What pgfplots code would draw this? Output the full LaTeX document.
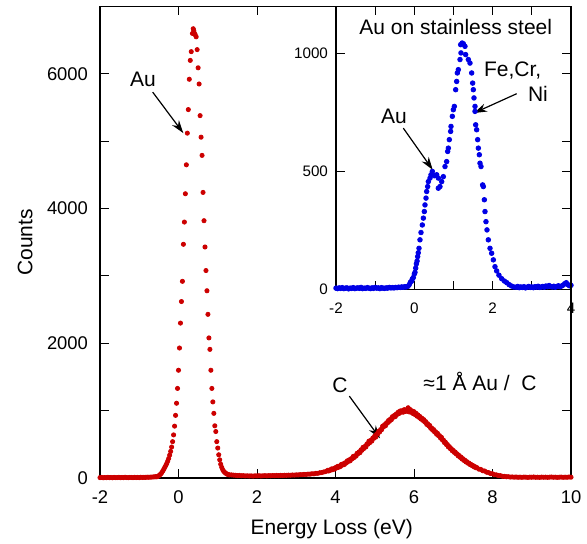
\documentclass[border=0pt]{standalone}
\usepackage{fontspec}
\setmainfont{Liberation Sans}
\usepackage{pgfplots}
\pgfplotsset{compat=1.18}
\usetikzlibrary{arrows.meta}
\definecolor{dotred}{HTML}{CC0000}
\definecolor{dotblue}{HTML}{0000E6}

\pgfplotsset{
  eelsframe/.style={
    scale only axis,
    axis line style={black, line width=0.6pt},
    tick align=inside,
    tick style={black, line width=0.5pt},
    major tick length=4.3pt,
    minor tick length=4.3pt,
  },
}
\tikzset{lbl/.style={font=\fontsize{10.5}{12}\selectfont, inner sep=0pt},
  pointer/.style={-{Stealth[length=6.5pt,width=4.2pt]}, line width=0.6pt}}

\begin{document}
\begin{tikzpicture}
\useasboundingbox (-50pt,-32.5pt) rectangle (243.5pt,239pt);

% inset: Au on stainless steel (drawn first, main frame goes on top)
\begin{axis}[eelsframe,
  at={(118pt,94.35pt)}, anchor=south west,
  width=117.5pt, height=141.4pt,
  xmin=-2, xmax=4, ymin=0, ymax=1200,
  axis background/.style={fill=white},
  xtick={-2,0,2,4}, xticklabels={-2,0,2,4},
  minor xtick={-1,1,3},
  ytick={0,500,1000}, yticklabels={0,500,1000},
  ticklabel style={font=\fontsize{7.6}{9}\selectfont},
  xticklabel style={yshift=-3.5pt},
  yticklabel style={xshift=-0.5pt},
  clip=false,
]
\addplot[only marks, mark=*, mark size=1.15pt, dotblue, mark options={draw=none, fill=dotblue}] table {
x y
-2.00 5
-1.96 3
-1.92 6
-1.88 4
-1.84 7
-1.80 3
-1.76 5
-1.72 6
-1.68 2
-1.64 5
-1.60 4
-1.56 7
-1.52 3
-1.48 5
-1.44 6
-1.40 4
-1.36 8
-1.32 3
-1.28 5
-1.24 4
-1.20 7
-1.16 5
-1.12 3
-1.08 6
-1.04 4
-1.00 8
-0.96 5
-0.92 6
-0.88 3
-0.84 7
-0.80 5
-0.76 4
-0.72 6
-0.68 5
-0.64 8
-0.60 6
-0.56 7
-0.52 6
-0.48 8
-0.44 7
-0.40 9
-0.36 8
-0.32 10
-0.28 9
-0.24 11
-0.21 10
-0.16 13
-0.13 20
-0.10 30
-0.07 35
-0.05 44
-0.026 50
0.000 65
0.017 72
0.035 90
0.052 108
0.070 120
0.085 139
0.100 155
0.119 174
0.144 210
0.170 241
0.204 273
0.230 302
0.255 330
0.272 358
0.298 387
0.315 415
0.340 436
0.357 457
0.400 472
0.425 486
0.459 500
0.510 482
0.570 486
0.612 472
0.612 429
0.655 436
0.698 457
0.740 478
0.783 521
0.825 542
0.851 585
0.868 599
0.893 635
0.927 670
0.936 691
0.970 734
0.995 762
1.021 776
1.055 847
1.081 882
1.098 918
1.123 932
1.166 975
1.191 1003
1.183 1038
1.220 1045
1.251 1042
1.293 1031
1.310 996
1.378 975
1.421 960
1.464 918
1.489 875
1.506 847
1.523 812
1.549 776
1.549 755
1.566 698
1.591 677
1.617 635
1.634 599
1.659 571
1.676 535
1.702 521
1.744 443
1.761 436
1.787 380
1.804 330
1.829 287
1.855 252
1.889 210
1.932 174
1.974 153
2.017 125
2.059 96
2.102 78
2.160 60
2.230 45
2.300 35
2.360 28
2.420 20
2.480 14
2.540 10
2.60 9
2.64 12
2.68 7
2.72 10
2.76 8
2.80 11
2.84 6
2.88 9
2.92 12
2.96 8
3.00 10
3.04 7
3.08 11
3.12 9
3.16 13
3.20 8
3.24 10
3.28 12
3.32 9
3.36 14
3.40 11
3.44 16
3.48 12
3.52 10
3.56 13
3.60 9
3.64 12
3.68 15
3.72 11
3.76 14
3.80 18
3.84 24
3.88 28
3.92 20
3.96 15
4.00 17
};
\node[lbl, anchor=base] at (axis cs:1.058,1081) {Au on stainless steel};
\node[lbl, anchor=base] at (axis cs:-0.519,702) {Au};
\draw[pointer] (axis cs:-0.282,684) -- (axis cs:0.469,507);
\node[lbl, anchor=base east] at (axis cs:3.251,901) {Fe,Cr,};
\node[lbl, anchor=base east] at (axis cs:3.42,797) {Ni};
\draw[pointer] (axis cs:2.613,830) -- (axis cs:1.523,748);
\end{axis}

% main spectrum: about 1 A Au on C
\begin{axis}[eelsframe,
  at={(0pt,0pt)}, anchor=south west,
  width=235.5pt, height=235.75pt,
  xmin=-2, xmax=10, ymin=0, ymax=7000,
  xtick={-2,0,2,4,6,8,10}, xticklabels={-2,0,2,4,6,8,10},
  ytick={0,2000,4000,6000}, yticklabels={0,2000,4000,6000},
  minor ytick={1000,3000,5000},
  ticklabel style={font=\fontsize{9.2}{11}\selectfont},
  xticklabel style={yshift=-3pt},
  yticklabel style={xshift=-2.5pt},
  xlabel={Energy Loss (eV)},
  ylabel={Counts},
  label style={font=\fontsize{10.5}{12}\selectfont},
  xlabel style={at={(axis description cs:0.492,-0.119)}, anchor=base},
  ylabel style={at={(axis description cs:-0.159,0.5)}, anchor=center},
  clip=false,
]
\addplot[only marks, mark=*, mark size=1.05pt, dotred, mark options={draw=none, fill=dotred}] table {
x y
-2.00 6
-1.96 9
-1.92 4
-1.88 7
-1.84 5
-1.80 10
-1.76 6
-1.72 8
-1.68 4
-1.64 9
-1.60 6
-1.56 7
-1.52 10
-1.48 5
-1.44 8
-1.40 6
-1.36 11
-1.32 7
-1.28 5
-1.24 9
-1.20 8
-1.16 6
-1.12 10
-1.08 7
-1.04 9
-1.00 6
-0.96 11
-0.92 8
-0.88 10
-0.84 9
-0.80 12
-0.76 11
-0.72 13
-0.68 14
-0.64 16
-0.60 18
-0.575 20
-0.550 18
-0.525 25
-0.500 35
-0.475 48
-0.450 62
-0.425 80
-0.400 105
-0.375 130
-0.350 158
-0.325 185
-0.300 215
-0.275 250
-0.250 290
-0.225 340
-0.200 395
-0.175 460
-0.150 540
-0.125 640
-0.100 770
-0.075 930
-0.050 1110
-0.025 1330
0.000 1600
0.025 1930
0.050 2300
0.075 2620
0.100 2920
0.125 3470
0.150 3800
0.175 4220
0.200 4650
0.225 5120
0.250 5470
0.275 5920
0.300 6200
0.325 6330
0.355 6600
0.375 6670
0.390 6640
0.410 6600
0.425 6580
0.450 6550
0.475 6360
0.500 6090
0.525 5850
0.550 5380
0.575 5060
0.600 4790
0.625 4240
0.650 3820
0.675 3430
0.700 3080
0.725 2780
0.750 2430
0.775 2080
0.800 1910
0.825 1600
0.850 1330
0.875 1130
0.900 960
0.925 775
0.950 690
0.975 540
1.000 445
1.025 345
1.050 270
1.075 205
1.100 160
1.125 125
1.150 100
1.175 85
1.200 72
1.225 62
1.250 55
1.275 50
1.300 47
1.35 46
1.40 43
1.45 41
1.50 37
1.55 38
1.60 34
1.65 35
1.70 31
1.75 33
1.80 30
1.85 32
1.90 29
1.95 33
2.00 31
2.05 34
2.10 30
2.15 33
2.20 35
2.25 32
2.30 36
2.35 34
2.40 37
2.45 35
2.50 38
2.55 36
2.60 39
2.65 37
2.70 41
2.75 39
2.80 43
2.85 41
2.90 45
2.95 43
3.00 47
3.05 46
3.10 50
3.15 49
3.20 54
3.25 53
3.30 58
3.35 57
3.40 63
3.45 62
3.50 69
3.55 70
3.60 78
3.65 81
3.70 90
3.75 96
3.800 114
3.825 104
3.850 119
3.875 116
3.900 135
3.925 124
3.950 140
3.975 132
4.000 155
4.025 149
4.050 172
4.075 159
4.100 178
4.125 170
4.150 202
4.175 192
4.200 212
4.225 200
4.250 227
4.275 223
4.300 255
4.325 245
4.350 270
4.375 256
4.400 287
4.425 285
4.450 320
4.475 304
4.500 330
4.525 326
4.550 367
4.575 361
4.600 387
4.625 377
4.650 418
4.675 413
4.700 455
4.725 439
4.750 469
4.775 462
4.800 506
4.825 502
4.850 547
4.875 525
4.900 560
4.925 548
4.950 593
4.975 589
5.000 625
5.025 607
5.050 654
5.075 653
5.100 694
5.125 684
5.150 720
5.175 717
5.200 770
5.225 759
5.250 792
5.275 777
5.300 820
5.325 817
5.350 854
5.375 842
5.400 876
5.425 866
5.450 911
5.475 901
5.500 930
5.525 912
5.550 952
5.575 945
5.600 979
5.625 959
5.650 996
5.675 978
5.700 1000
5.725 977
5.750 1015
5.775 988
5.800 1012
5.825 991
5.850 1043
5.875 982
5.900 1017
5.925 976
5.950 996
5.975 957
6.000 985
6.025 942
6.050 961
6.075 919
6.100 937
6.125 901
6.150 913
6.175 876
6.200 888
6.225 856
6.250 867
6.275 831
6.300 837
6.325 795
6.350 805
6.375 774
6.400 780
6.425 738
6.450 743
6.475 710
6.500 719
6.525 683
6.550 687
6.575 650
6.600 663
6.625 628
6.650 629
6.675 593
6.700 604
6.725 563
6.750 563
6.775 526
6.800 532
6.825 496
6.850 498
6.875 461
6.900 467
6.925 435
6.950 436
6.975 404
7.000 410
7.025 380
7.050 385
7.075 357
7.100 358
7.125 328
7.150 334
7.175 307
7.200 310
7.225 281
7.250 285
7.275 260
7.300 263
7.325 238
7.350 241
7.375 220
7.400 222
7.425 200
7.450 203
7.475 185
7.500 186
7.525 167
7.550 170
7.575 153
7.600 155
7.65 132
7.70 128
7.75 108
7.80 104
7.85 86
7.90 81
7.95 66
8.00 63
8.05 49
8.10 47
8.15 37
8.20 35
8.25 26
8.30 25
8.35 19
8.40 20
8.45 14
8.50 16
8.55 12
8.60 15
8.65 11
8.70 13
8.75 10
8.80 14
8.85 12
8.90 9
8.95 13
9.00 11
9.05 15
9.10 10
9.15 12
9.20 9
9.25 14
9.30 11
9.35 13
9.40 10
9.45 12
9.50 15
9.55 11
9.60 13
9.65 9
9.70 12
9.75 14
9.80 10
9.85 13
9.90 11
9.95 15
10.00 12
};
\node[lbl, anchor=base] at (axis cs:-0.904,5813) {Au};
\draw[pointer] (axis cs:-0.657,5729) -- (axis cs:0.122,5121);
\node[lbl, anchor=base] at (axis cs:4.115,1265) {C};
\draw[pointer] (axis cs:4.352,1216) -- (axis cs:5.134,589);
\node[lbl, anchor=base] at (axis cs:7.682,1305) {≈1 Å Au /\ \ C};
\end{axis}
\end{tikzpicture}
\end{document}
